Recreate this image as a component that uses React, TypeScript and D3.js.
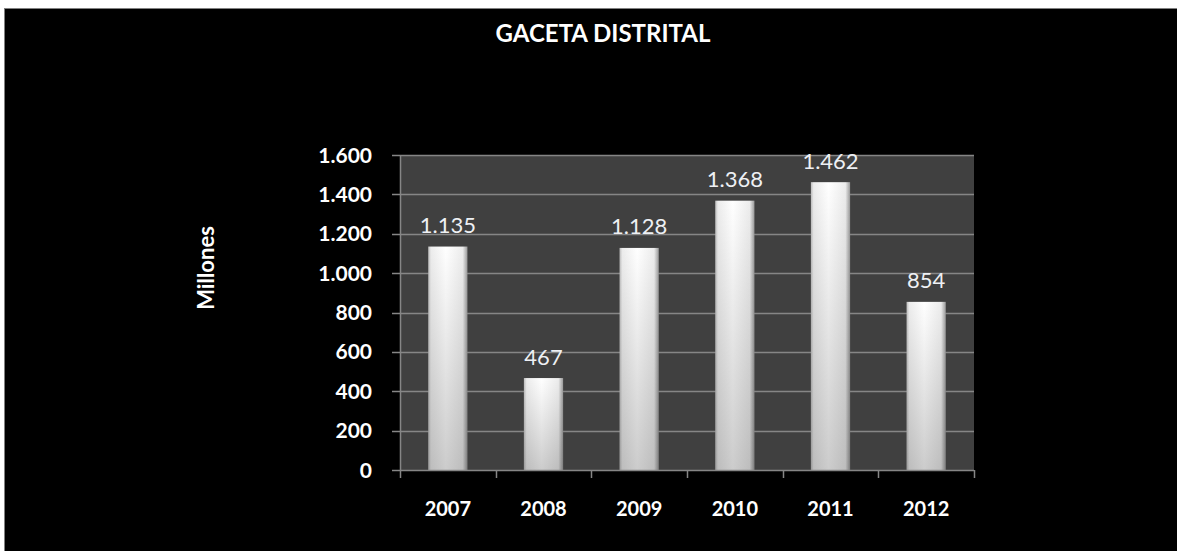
import React from "react";
import * as d3 from "d3";

const title = "GACETA DISTRITAL";
const yAxisTitle = "Millones";
const years = ["2007", "2008", "2009", "2010", "2011", "2012"];
const values = [1135, 467, 1128, 1368, 1462, 854];
const yTicks = [0, 200, 400, 600, 800, 1000, 1200, 1400, 1600];

const W = 1177;
const H = 551;
const plot = { left: 400, right: 974, top: 155, bottom: 470 };

const fmt = (v: number) => d3.format(",")(v).replace(/,/g, ".");

export default function App() {
  const x = d3
    .scaleBand<string>()
    .domain(years)
    .range([plot.left, plot.right])
    .paddingInner(0.59)
    .paddingOuter(0.295);
  const band = d3.scaleBand<string>().domain(years).range([plot.left, plot.right]);
  const y = d3.scaleLinear().domain([0, 1600]).range([plot.bottom, plot.top]);
  const font = "Lato, 'Open Sans', sans-serif";

  return (
    <div style={{ position: "absolute", left: 0, top: 0 }}>
      <svg width={W} height={H} style={{ display: "block" }}>
        <defs>
          <linearGradient id="barH" x1="0" x2="1" y1="0" y2="0">
            <stop offset="0%" stopColor="#bdbdbd" />
            <stop offset="7%" stopColor="#ececec" />
            <stop offset="45%" stopColor="#ffffff" />
            <stop offset="88%" stopColor="#ececec" />
            <stop offset="100%" stopColor="#9a9a9a" />
          </linearGradient>
          <linearGradient id="barV" x1="0" x2="0" y1="0" y2="1">
            <stop offset="0%" stopColor="#000" stopOpacity={0} />
            <stop offset="100%" stopColor="#000" stopOpacity={0.2} />
          </linearGradient>
        </defs>
        <rect x={0} y={0} width={W} height={H} fill="#ffffff" />
        <rect x={4.5} y={8.5} width={W} height={H} fill="#000000" stroke="#808080" strokeWidth={1} />
        <text
          x={603}
          y={42}
          textAnchor="middle"
          fill="#ffffff"
          fontFamily={font}
          fontWeight="bold"
          fontSize={24}
        >
          {title}
        </text>
        <text
          transform={`translate(214,268) rotate(-90)`}
          textAnchor="middle"
          fill="#ffffff"
          fontFamily={font}
          fontWeight="bold"
          fontSize={22}
        >
          {yAxisTitle}
        </text>
        <rect
          x={plot.left}
          y={plot.top}
          width={plot.right - plot.left}
          height={plot.bottom - plot.top}
          fill="#404040"
        />
        {yTicks.map((t) => (
          <g key={t}>
            <line
              x1={plot.left - 8}
              x2={t === 0 ? plot.left : plot.right}
              y1={Math.round(y(t)) + 0.5}
              y2={Math.round(y(t)) + 0.5}
              stroke="#868686"
              strokeWidth={1.5}
            />
            <text
              x={372}
              y={y(t) + 7.5}
              textAnchor="end"
              fill="#ffffff"
              fontFamily={font}
              fontWeight="bold"
              fontSize={21}
            >
              {fmt(t)}
            </text>
          </g>
        ))}
        <line x1={plot.left + 0.5} x2={plot.left + 0.5} y1={plot.top} y2={plot.bottom} stroke="#868686" strokeWidth={1.5} />
        {years.map((yr, i) => {
          const bx = x(yr)!;
          const bw = x.bandwidth();
          const top = y(values[i]);
          return (
            <g key={yr}>
              <rect x={bx} y={top} width={bw} height={plot.bottom - top} fill="url(#barH)" />
              <rect x={bx} y={top} width={bw} height={plot.bottom - top} fill="url(#barV)" />
              <text
                x={bx + bw / 2}
                y={top - 13.5}
                textAnchor="middle"
                fill="#eef0f4"
                fontFamily={font}
                fontSize={22}
              >
                {fmt(values[i])}
              </text>
              <text
                x={band(yr)! + band.bandwidth() / 2}
                y={516}
                textAnchor="middle"
                fill="#ffffff"
                fontFamily={font}
                fontWeight="bold"
                fontSize={20}
              >
                {yr}
              </text>
            </g>
          );
        })}
        <line x1={plot.left} x2={plot.right} y1={plot.bottom + 0.5} y2={plot.bottom + 0.5} stroke="#868686" strokeWidth={1.5} />
        {[...years.map((yr) => band(yr)!), plot.right].map((bx, i) => (
          <line
            key={i}
            x1={Math.round(bx) + 0.5}
            x2={Math.round(bx) + 0.5}
            y1={plot.bottom}
            y2={plot.bottom + 8}
            stroke="#868686"
            strokeWidth={1.5}
          />
        ))}
      </svg>
    </div>
  );
}
